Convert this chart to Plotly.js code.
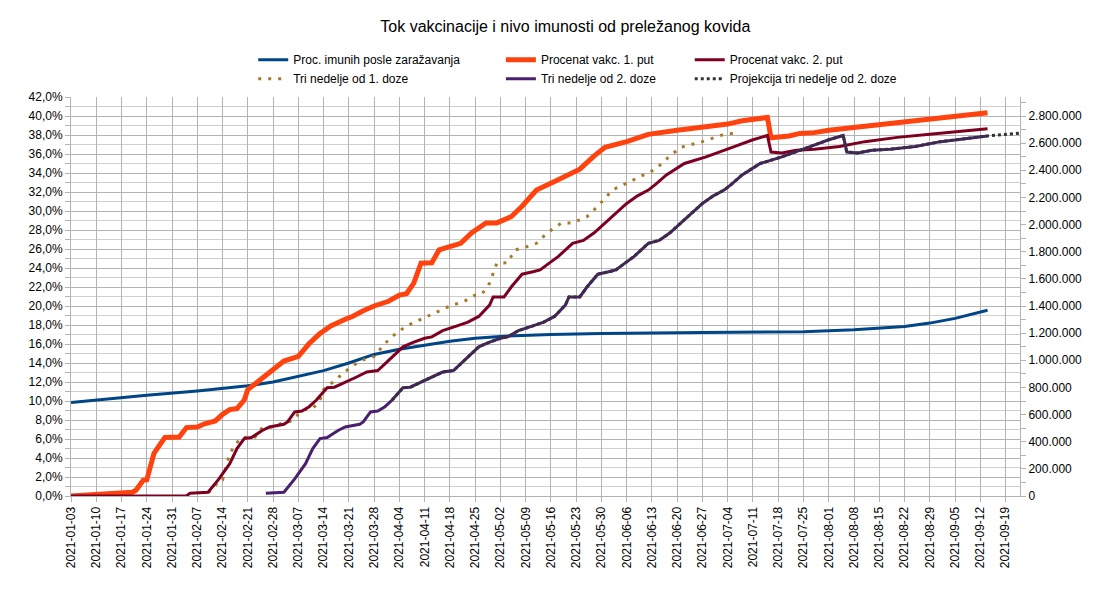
<!DOCTYPE html>
<html>
<head>
<meta charset="utf-8">
<script src="https://cdn.plot.ly/plotly-3.0.1.min.js"></script>
<style>html,body{margin:0;padding:0;background:#fff;}#chart{width:1115px;height:594px;}</style>
</head>
<body>
<div id="chart"></div>
<script>
// ---- Data (values in percent of population) ----
const immuneDates = ["2021-01-03","2021-01-17","2021-01-24","2021-02-07","2021-02-21","2021-02-28","2021-03-07","2021-03-14","2021-03-21","2021-03-28","2021-04-04","2021-04-11","2021-04-18","2021-04-25","2021-05-02","2021-05-16","2021-05-30","2021-06-27","2021-07-25","2021-08-08","2021-08-22","2021-08-29","2021-09-05","2021-09-14"];
const immuneValues = [9.85,10.3,10.6,11.06,11.6,12.0,12.6,13.2,14.0,14.9,15.45,15.9,16.3,16.6,16.8,17.0,17.1,17.2,17.3,17.5,17.85,18.2,18.7,19.55];

const dose1Dates = ["2021-01-03","2021-01-10","2021-01-17","2021-01-20","2021-01-21","2021-01-23","2021-01-24","2021-01-26","2021-01-29","2021-02-02","2021-02-04","2021-02-07","2021-02-09","2021-02-12","2021-02-14","2021-02-16","2021-02-18","2021-02-20","2021-02-21","2021-02-23","2021-02-27","2021-03-03","2021-03-07","2021-03-10","2021-03-13","2021-03-16","2021-03-20","2021-03-22","2021-03-25","2021-03-28","2021-04-01","2021-04-04","2021-04-06","2021-04-08","2021-04-10","2021-04-13","2021-04-15","2021-04-18","2021-04-21","2021-04-24","2021-04-28","2021-05-01","2021-05-05","2021-05-08","2021-05-12","2021-05-17","2021-05-21","2021-05-24","2021-05-28","2021-05-31","2021-06-06","2021-06-12","2021-06-20","2021-06-26","2021-07-04","2021-07-08","2021-07-15","2021-07-16","2021-07-21","2021-07-24","2021-07-28","2021-08-01","2021-08-15","2021-08-29","2021-09-14"];
const dose1Values = [0.0,0.15,0.3,0.4,0.6,1.65,1.7,4.5,6.15,6.2,7.2,7.27,7.6,7.9,8.6,9.1,9.2,10.1,11.2,11.8,13.1,14.2,14.7,16.05,17.1,17.9,18.6,18.9,19.5,20.0,20.5,21.15,21.3,22.4,24.5,24.55,25.9,26.2,26.6,27.7,28.75,28.75,29.4,30.5,32.2,33.1,33.9,34.4,35.8,36.7,37.3,38.07,38.5,38.8,39.15,39.5,39.85,37.7,37.9,38.17,38.25,38.5,39.05,39.6,40.35];

const dose2Dates = ["2021-01-03","2021-02-04","2021-02-05","2021-02-10","2021-02-13","2021-02-16","2021-02-18","2021-02-20","2021-02-22","2021-02-25","2021-02-27","2021-03-03","2021-03-04","2021-03-06","2021-03-08","2021-03-10","2021-03-12","2021-03-15","2021-03-17","2021-03-21","2021-03-23","2021-03-26","2021-03-29","2021-03-31","2021-04-03","2021-04-05","2021-04-08","2021-04-11","2021-04-13","2021-04-16","2021-04-20","2021-04-23","2021-04-26","2021-04-29","2021-04-30","2021-05-03","2021-05-05","2021-05-08","2021-05-11","2021-05-13","2021-05-16","2021-05-18","2021-05-22","2021-05-25","2021-05-28","2021-06-01","2021-06-03","2021-06-06","2021-06-09","2021-06-12","2021-06-14","2021-06-17","2021-06-22","2021-06-28","2021-07-06","2021-07-11","2021-07-15","2021-07-16","2021-07-19","2021-07-23","2021-07-28","2021-08-04","2021-08-11","2021-08-20","2021-08-29","2021-09-07","2021-09-14"];
const dose2Values = [0.0,0.0,0.3,0.4,1.8,3.4,5.0,6.05,6.15,6.9,7.27,7.55,7.8,8.85,8.95,9.4,10.1,11.4,11.45,12.2,12.5,13.05,13.2,13.9,15.0,15.7,16.2,16.6,16.75,17.4,17.9,18.3,18.9,20.1,20.95,20.95,22.0,23.35,23.6,23.8,24.65,25.2,26.6,26.9,27.7,29.05,29.75,30.8,31.6,32.2,32.8,33.8,35.0,35.7,36.8,37.5,37.95,36.2,36.1,36.4,36.5,36.8,37.3,37.75,38.07,38.4,38.66];

const threeWeeks1Dates = ["2021-02-10","2021-02-11","2021-02-13","2021-02-14","2021-02-16","2021-02-19","2021-02-23","2021-02-25","2021-02-28","2021-03-02","2021-03-05","2021-03-07","2021-03-09","2021-03-11","2021-03-13","2021-03-14","2021-03-16","2021-03-20","2021-03-24","2021-03-28","2021-03-31","2021-04-03","2021-04-06","2021-04-10","2021-04-12","2021-04-15","2021-04-18","2021-04-22","2021-04-25","2021-04-27","2021-04-29","2021-05-01","2021-05-04","2021-05-06","2021-05-09","2021-05-12","2021-05-15","2021-05-19","2021-05-22","2021-05-26","2021-05-29","2021-06-02","2021-06-07","2021-06-11","2021-06-14","2021-06-18","2021-06-21","2021-06-27","2021-07-03","2021-07-06"];
const threeWeeks1Values = [0.4,0.6,1.65,1.7,4.5,6.15,6.2,7.2,7.27,7.6,7.9,8.6,9.1,9.2,10.1,11.2,11.8,13.1,14.2,14.7,16.05,17.1,17.9,18.6,18.9,19.5,20.0,20.5,21.15,21.3,22.4,24.5,24.55,25.9,26.2,26.6,27.7,28.75,28.75,29.4,30.5,32.2,33.1,33.9,34.4,35.8,36.7,37.3,38.07,38.2];

const threeWeeks2Dates = ["2021-02-26","2021-03-03","2021-03-06","2021-03-09","2021-03-11","2021-03-13","2021-03-15","2021-03-18","2021-03-20","2021-03-24","2021-03-25","2021-03-27","2021-03-29","2021-03-31","2021-04-02","2021-04-05","2021-04-07","2021-04-11","2021-04-13","2021-04-16","2021-04-19","2021-04-21","2021-04-24","2021-04-26","2021-04-29","2021-05-02","2021-05-04","2021-05-07","2021-05-11","2021-05-14","2021-05-17","2021-05-20","2021-05-21","2021-05-24","2021-05-26","2021-05-29","2021-06-01","2021-06-03","2021-06-06","2021-06-08","2021-06-12","2021-06-15","2021-06-18","2021-06-22","2021-06-24","2021-06-27","2021-06-30","2021-07-03","2021-07-05","2021-07-08","2021-07-13","2021-07-19","2021-07-27","2021-08-01","2021-08-05","2021-08-06","2021-08-09","2021-08-13","2021-08-18","2021-08-25","2021-09-01","2021-09-10","2021-09-14"];
const threeWeeks2Values = [0.3,0.4,1.8,3.4,5.0,6.05,6.15,6.9,7.27,7.55,7.8,8.85,8.95,9.4,10.1,11.4,11.45,12.2,12.5,13.05,13.2,13.9,15.0,15.7,16.2,16.6,16.75,17.4,17.9,18.3,18.9,20.1,20.95,20.95,22.0,23.35,23.6,23.8,24.65,25.2,26.6,26.9,27.7,29.05,29.75,30.8,31.6,32.2,32.8,33.8,35.0,35.7,36.8,37.5,37.95,36.2,36.1,36.4,36.5,36.8,37.3,37.75,37.9];

const projectionDates = ["2021-04-02","2021-04-05","2021-04-07","2021-04-11","2021-04-13","2021-04-16","2021-04-19","2021-04-21","2021-04-24","2021-04-26","2021-04-29","2021-05-02","2021-05-04","2021-05-07","2021-05-11","2021-05-14","2021-05-17","2021-05-20","2021-05-21","2021-05-24","2021-05-26","2021-05-29","2021-06-01","2021-06-03","2021-06-06","2021-06-08","2021-06-12","2021-06-15","2021-06-18","2021-06-22","2021-06-24","2021-06-27","2021-06-30","2021-07-03","2021-07-05","2021-07-08","2021-07-13","2021-07-19","2021-07-27","2021-08-01","2021-08-05","2021-08-06","2021-08-09","2021-08-13","2021-08-18","2021-08-25","2021-09-01","2021-09-10","2021-09-14","2021-09-23"];
const projectionValues = [10.1,11.4,11.45,12.2,12.5,13.05,13.2,13.9,15.0,15.7,16.2,16.6,16.75,17.4,17.9,18.3,18.9,20.1,20.95,20.95,22.0,23.35,23.6,23.8,24.65,25.2,26.6,26.9,27.7,29.05,29.75,30.8,31.6,32.2,32.8,33.8,35.0,35.7,36.8,37.5,37.95,36.2,36.1,36.4,36.5,36.8,37.3,37.75,37.9,38.2];

const seriesNames = ["Proc. imunih posle zaražavanja","Procenat vakc. 1. put","Procenat vakc. 2. put","Tri nedelje od 1. doze","Tri nedelje od 2. doze","Projekcija tri nedelje od 2. doze"];
const chartTitle = "Tok vakcinacije i nivo imunosti od preležanog kovida";

const FONT = "Liberation Sans, Arial, sans-serif";
const GRID = "#b3b3b3";

const traces = [
  {x: immuneDates, y: immuneValues, name: seriesNames[0], mode: "lines", line: {color: "#004586", width: 3}, legend: "legend"},
  {x: threeWeeks1Dates, y: threeWeeks1Values, name: seriesNames[3], mode: "lines", line: {color: "#a8792a", width: 3, dash: "3px,7px"}, legend: "legend"},
  {x: dose1Dates, y: dose1Values, name: seriesNames[1], mode: "lines", line: {color: "#ff420e", width: 5}, legend: "legend2"},
  {x: dose2Dates, y: dose2Values, name: seriesNames[2], mode: "lines", line: {color: "#7e0021", width: 3}, legend: "legend3"},
  {x: threeWeeks2Dates, y: threeWeeks2Values, name: seriesNames[4], mode: "lines", line: {color: "#4b1f6f", width: 3}, legend: "legend2"},
  {x: projectionDates, y: projectionValues, name: seriesNames[5], mode: "lines", line: {color: "#333333", width: 3, dash: "dot"}, legend: "legend3"},
  // empty trace that only attaches the right-hand axis (population count)
  {x: [], y: [], yaxis: "y2", mode: "lines", showlegend: false, hoverinfo: "skip"}
];

const legendBase = {orientation: "v", xanchor: "left", yanchor: "top", y: 1.13, bgcolor: "rgba(0,0,0,0)", font: {family: FONT, size: 12, color: "#000"}, tracegroupgap: 0, itemwidth: 30};

const layout = {
  width: 1115, height: 594,
  margin: {l: 71, r: 95, t: 97, b: 98},
  paper_bgcolor: "#fff", plot_bgcolor: "#fff",
  separators: ",.",
  font: {family: FONT, size: 12, color: "#000"},
  title: {text: chartTitle, x: 0.507, xanchor: "center", xref: "container", y: 0.955, yref: "container", yanchor: "middle", font: {family: FONT, size: 16, color: "#000"}},
  showlegend: true,
  legend: Object.assign({}, legendBase, {x: 0.192}),
  legend2: Object.assign({}, legendBase, {x: 0.453}),
  legend3: Object.assign({}, legendBase, {x: 0.652}),
  xaxis: {
    type: "date", range: ["2021-01-03", "2021-09-23"],
    tick0: "2021-01-03", dtick: 7 * 86400000, tickformat: "%Y-%m-%d", tickangle: -90,
    showgrid: true, gridcolor: GRID, gridwidth: 1,
    ticks: "outside", ticklen: 5, tickcolor: GRID,
    showline: true, linecolor: GRID, linewidth: 1,
    tickfont: {family: FONT, size: 12, color: "#000"}, zeroline: false
  },
  yaxis: {
    range: [0, 42], dtick: 2, tick0: 0, tickformat: ".1f", ticksuffix: "%",
    showgrid: true, gridcolor: GRID, gridwidth: 1,
    minor: {dtick: 1, showgrid: true, gridcolor: "#cfcfcf", ticks: "outside", ticklen: 5, tickcolor: GRID},
    ticks: "outside", ticklen: 5, tickcolor: GRID,
    showline: true, linecolor: GRID, linewidth: 1, zeroline: false,
    tickfont: {family: FONT, size: 12, color: "#000"}
  },
  yaxis2: {
    overlaying: "y", side: "right", anchor: "x",
    range: [0, 2940000], dtick: 200000, tick0: 0, tickformat: ",.0f",
    showgrid: false, zeroline: false,
    minor: {dtick: 100000, ticks: "outside", ticklen: 5, tickcolor: GRID},
    ticks: "outside", ticklen: 5, tickcolor: GRID,
    showline: true, linecolor: GRID, linewidth: 1,
    tickfont: {family: FONT, size: 12, color: "#000"}
  }
};

Plotly.newPlot("chart", traces, layout, {displayModeBar: false, staticPlot: true});
</script>
</body>
</html>
